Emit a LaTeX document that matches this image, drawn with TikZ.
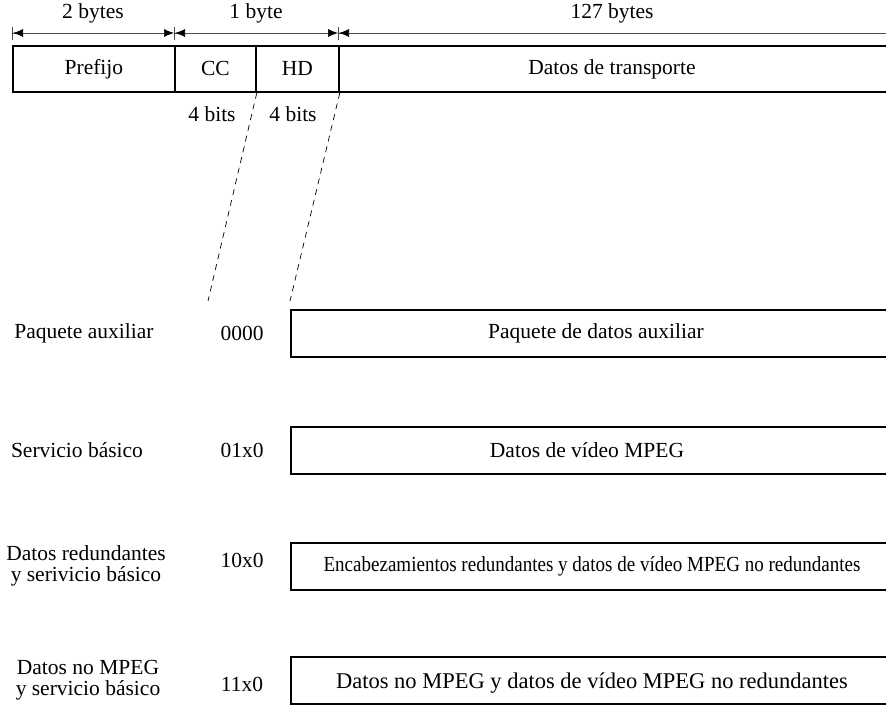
\documentclass[tikz,border=0pt]{standalone}
\usepackage{fontspec}
\setmainfont{Liberation Serif}
\usetikzlibrary{arrows.meta}
\begin{document}
\begin{tikzpicture}[x=1pt,y=-1pt,
  cell/.style={draw, line width=1.8pt, minimum height=46pt, inner sep=0pt, anchor=north west, font=\fontsize{21.5}{24}\selectfont},
  rowbox/.style={draw, line width=1.8pt, minimum height=47pt, inner sep=0pt, anchor=north west, minimum width=620pt},
  lbl/.style={font=\fontsize{21.5}{24}\selectfont, inner sep=0pt, align=center},
  dimline/.style={line width=0.7pt, draw=black!70, {Bar[width=13pt,line width=1pt]Latex[length=10pt,width=8pt,black]}-{Latex[length=10pt,width=8pt,black]}},
  dimr/.style={line width=0.7pt, draw=black!70, {Bar[width=13pt,line width=1pt]Latex[length=10pt,width=8pt,black]}-},
  dashln/.style={line width=0.7pt, dash pattern=on 6pt off 5pt}
]
\useasboundingbox (0,0) rectangle (886,705);
\clip (0,0) rectangle (886,705);
% top packet
\node[cell, minimum width=162pt] (pre) at (12,45) {Prefijo};
\node[cell, minimum width=81pt] (cc) at (174,45) {CC};
\node[cell, minimum width=83pt] (hd) at (255,45) {HD};
\node[cell, minimum width=560pt] (dt) at (338,45) {};
\node[lbl] (dtt) at (612,69) {Datos de transporte};
% dimension arrows
\coordinate (d0) at (12,33);
\coordinate (d1) at (174,33);
\coordinate (d2) at (338,33);
\coordinate (d3) at (890,33);
\draw[dimline] (d0) -- (d1);
\draw[dimline] (d1) -- (d2);
\draw[dimr] (d2) -- (d3);
\node[lbl] (b2) at (93,13) {2 bytes};
\node[lbl] (b1) at (256,13) {1 byte};
\node[lbl] (b127) at (612,13) {127 bytes};
% bits
\node[lbl] (bits1) at (212,114) {4 bits};
\node[lbl] (bits2) at (293,114) {4 bits};
\coordinate (e1) at (208,301);
\coordinate (e2) at (290,301);
\draw[dashln] (cc.south east) -- (e1);
\draw[dashln] (hd.south east) -- (e2);
% rows
\node[rowbox] (r1) at (290,309) {};
\node[lbl] (r1t) at (596,333) {Paquete de datos auxiliar};
\node[lbl] (l1) at (84,333) {Paquete auxiliar};
\node[lbl] (c1) at (242,333) {0000};

\node[rowbox] (r2) at (290,426) {};
\node[lbl] (r2t) at (587,450) {Datos de vídeo MPEG};
\node[lbl] (l2) at (77,450) {Servicio básico};
\node[lbl] (c2) at (242,450) {01x0};

\node[rowbox] (r3) at (290,542) {};
\node[lbl] (r3t) at (592,566) {\scalebox{0.885}[1]{Encabezamientos redundantes y datos de vídeo MPEG no redundantes}};
\node[lbl] (l3) at (86,566) {Datos redundantes\\[-3pt]y serivicio básico};
\node[lbl] (c3) at (242,560) {10x0};

\node[rowbox] (r4) at (290,656) {};
\node[lbl, font=\fontsize{22.5}{25}\selectfont] (r4t) at (592,683) {Datos no MPEG y datos de vídeo MPEG no redundantes};
\node[lbl] (l4) at (88,680) {Datos no MPEG\\[-3pt]y servicio básico};
\node[lbl] (c4) at (242,684) {11x0};
\end{tikzpicture}
\end{document}
